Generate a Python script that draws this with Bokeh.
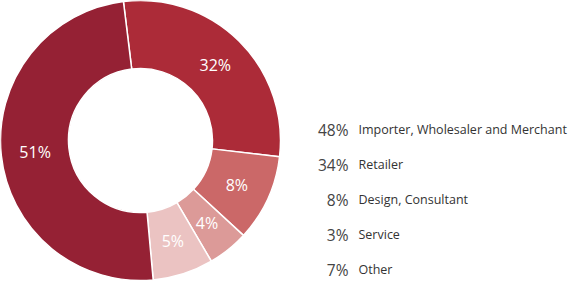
import numpy as np
from bokeh.plotting import figure
from bokeh.models import ColumnDataSource, Range1d
from bokeh.core.properties import value
from bokeh.embed import file_html
from bokeh.resources import INLINE

slice_labels = ["32%", "8%", "4%", "5%", "51%"]
slice_shares = [28.8, 10.0, 4.7, 7.0, 49.5]
slice_colors = ["#AC2B38", "#CB6868", "#DC9A98", "#EBC3C2", "#952134"]
start_offset_deg = -7.0  # clockwise-from-top angle of first slice start

# Legend
legend_pcts = ["48%", "34%", "8%", "3%", "7%"]
legend_labels = ["Importer, Wholesaler and Merchant", "Retailer",
                 "Design, Consultant", "Service", "Other"]

W, H = 571, 281
cx, cy = 140, H - 140
r_in, r_out = 72, 140

shares = np.array(slice_shares, dtype=float)
fr = shares / shares.sum()
cum = np.concatenate([[0.0], np.cumsum(fr)]) * 360.0 + start_offset_deg
th_start = cum[:-1]
th_end = cum[1:]
th_mid = (th_start + th_end) / 2.0

start_ang = np.radians(90.0 - th_start)
end_ang = np.radians(90.0 - th_end)

src = ColumnDataSource(dict(
    start=start_ang, end=end_ang, color=slice_colors,
    lx=cx + (r_in + r_out) / 2.0 * np.sin(np.radians(th_mid)),
    ly=cy + (r_in + r_out) / 2.0 * np.cos(np.radians(th_mid)),
    label=slice_labels,
))

p = figure(width=W, height=H, output_backend="svg", toolbar_location=None,
           x_range=Range1d(0, W), y_range=Range1d(0, H), min_border=0)
p.axis.visible = False
p.grid.visible = False
p.outline_line_color = None
p.background_fill_color = "white"
p.border_fill_color = "white"

p.annular_wedge(x=cx, y=cy, inner_radius=r_in, outer_radius=r_out,
                start_angle="start", end_angle="end", direction="clock",
                fill_color="color", line_color="white", line_width=1.5,
                source=src)

p.text(x="lx", y="ly", text="label", source=src, text_color="white",
       text_font=value("Open Sans"), text_font_size="16px",
       text_align="center", text_baseline="middle")

leg_y = [H - (129 + 35 * i) for i in range(len(legend_labels))]
leg_src = ColumnDataSource(dict(
    y=leg_y, pct=legend_pcts, lab=legend_labels,
    xp=[348] * len(leg_y), xl=[358] * len(leg_y)))
p.text(x="xp", y="y", text="pct", source=leg_src, text_color="#444444",
       text_font=value("Open Sans"), text_font_size="15.5px",
       text_align="right", text_baseline="middle")
p.text(x="xl", y="y", text="lab", source=leg_src, text_color="#333333",
       text_font=value("Open Sans"), text_font_size="12.5px",
       text_align="left", text_baseline="middle")

open("out.html", "w").write(file_html(p, INLINE))
